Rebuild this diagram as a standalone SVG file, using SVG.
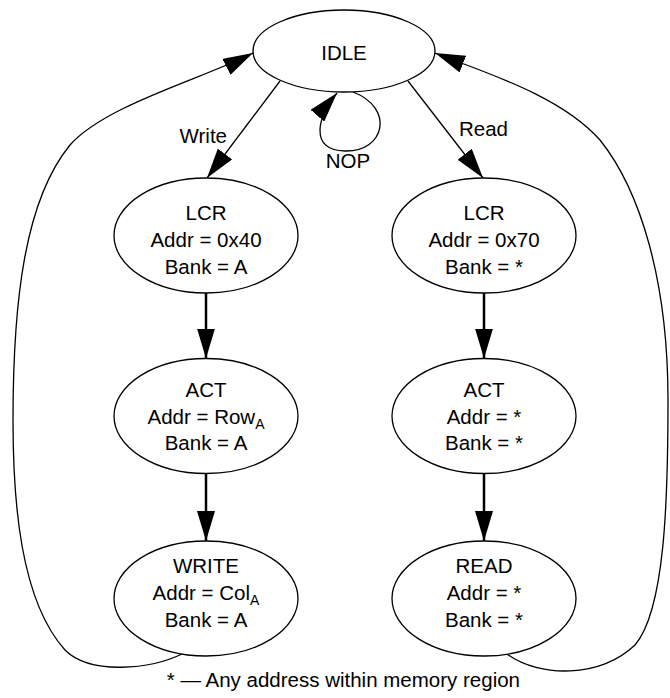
<svg xmlns="http://www.w3.org/2000/svg" width="670" height="698" viewBox="0 0 670 698">
<style>
text{font-family:"Liberation Sans",Arial,Helvetica,sans-serif;font-size:20.5px;fill:#000;text-anchor:middle}
.node ellipse{fill:#fff;stroke:#000;stroke-width:1.3}
.thin{fill:none;stroke:#000;stroke-width:1.3}
.thick{fill:none;stroke:#000;stroke-width:2.5}
.sub{font-size:14px}
</style>
<defs>
<marker id="ah" markerUnits="userSpaceOnUse" viewBox="0 0 30 18" markerWidth="30" markerHeight="18" refX="30" refY="9" orient="auto">
<path d="M0,0 L30,9 L0,18 Z" fill="#000"/>
</marker>
</defs>
<g id="connectors">
<path class="thin" d="M280 81 L207 178" marker-end="url(#ah)"/>
<path class="thin" d="M408 81 L483 178" marker-end="url(#ah)"/>
<path class="thin" d="M353 92 C395 108 385 152 345 151 C308 150 318 115 337 93" marker-end="url(#ah)"/>
<path class="thick" d="M206 293 L206 358.5" marker-end="url(#ah)"/>
<path class="thick" d="M206 473.5 L206 541" marker-end="url(#ah)"/>
<path class="thick" d="M484 293 L484 358.5" marker-end="url(#ah)"/>
<path class="thick" d="M484 473.5 L484 541" marker-end="url(#ah)"/>
<path class="thin" d="M184 653 C150 670 90 675 65 650 C20 600 13 500 13 420 C13 300 25 200 70 145 C105 105 205 78 253 53" marker-end="url(#ah)"/>
<path class="thin" d="M507 654 C540 678 600 678 635 645 C665 610 668 500 668 400 C668 280 640 190 600 140 C560 95 483 72 435 53" marker-end="url(#ah)"/>
<text x="227" y="143" style="text-anchor:end">Write</text>
<text x="459" y="136" style="text-anchor:start">Read</text>
<text x="348" y="168">NOP</text>
</g>
<g id="idle" class="node">
<ellipse cx="344" cy="51" rx="91" ry="41"/>
<text x="344" y="60">IDLE</text>
</g>
<g id="lcr-write" class="node">
<ellipse cx="206" cy="235.5" rx="92" ry="57.5"/>
<text x="206" y="220">LCR</text>
<text x="206" y="247">Addr = 0x40</text>
<text x="206" y="274">Bank = A</text>
</g>
<g id="act-write" class="node">
<ellipse cx="206" cy="416" rx="92" ry="57.5"/>
<text x="206" y="397">ACT</text>
<text x="206" y="424">Addr = Row<tspan class="sub" dy="5">A</tspan></text>
<text x="206" y="450">Bank = A</text>
</g>
<g id="write" class="node">
<ellipse cx="206" cy="598.5" rx="92" ry="57.5"/>
<text x="206" y="573">WRITE</text>
<text x="206" y="600">Addr = Col<tspan class="sub" dy="5">A</tspan></text>
<text x="206" y="627">Bank = A</text>
</g>
<g id="lcr-read" class="node">
<ellipse cx="484" cy="235.5" rx="92" ry="57.5"/>
<text x="484" y="220">LCR</text>
<text x="484" y="247">Addr = 0x70</text>
<text x="484" y="274">Bank = *</text>
</g>
<g id="act-read" class="node">
<ellipse cx="484" cy="416" rx="92" ry="57.5"/>
<text x="484" y="397">ACT</text>
<text x="484" y="424">Addr = *</text>
<text x="484" y="450">Bank = *</text>
</g>
<g id="read" class="node">
<ellipse cx="484" cy="598.5" rx="92" ry="57.5"/>
<text x="484" y="573">READ</text>
<text x="484" y="600">Addr = *</text>
<text x="484" y="627">Bank = *</text>
</g>
<text x="520" y="687" style="text-anchor:end">* — Any address within memory region</text>
</svg>
